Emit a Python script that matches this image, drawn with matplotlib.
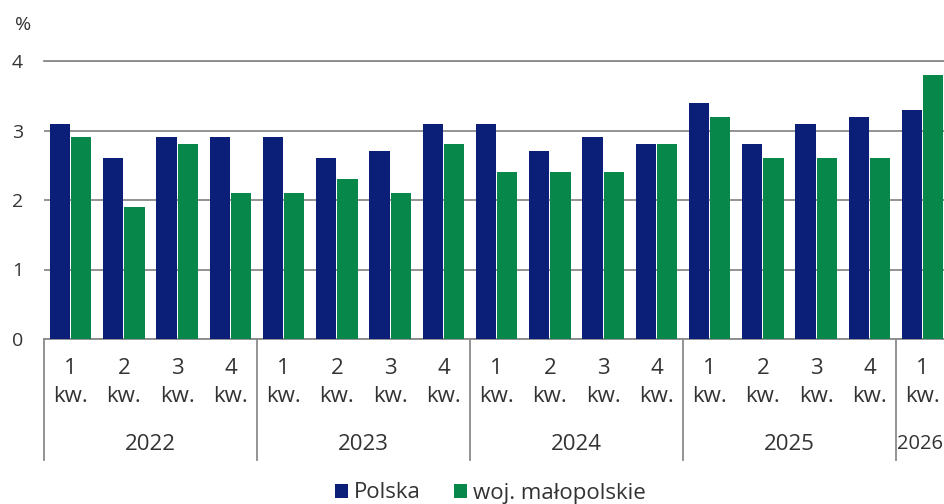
import matplotlib
matplotlib.use("Agg")
import matplotlib.pyplot as plt
import matplotlib.transforms as mtransforms
from matplotlib.patches import Patch
import numpy as np

years = ["2022", "2023", "2024", "2025", "2026"]
quarters_per_year = [4, 4, 4, 4, 1]
quarter_labels = ["1", "2", "3", "4"] * 4 + ["1"]
polska = [3.1, 2.6, 2.9, 2.9, 2.9, 2.6, 2.7, 3.1, 3.1, 2.7, 2.9, 2.8, 3.4, 2.8, 3.1, 3.2, 3.3]
malopolskie = [2.9, 1.9, 2.8, 2.1, 2.1, 2.3, 2.1, 2.8, 2.4, 2.4, 2.4, 2.8, 3.2, 2.6, 2.6, 2.6, 3.8]
series_names = ["Polska", "woj. małopolskie"]
yticks = [0, 1, 2, 3, 4]

navy = "#0b1f78"
green = "#07884a"
grid_c = "#8a8a8a"
text_c = "#333333"

plt.rcParams["font.family"] = ["Open Sans", "DejaVu Sans"]

fig = plt.figure(figsize=(9.44, 5.04), dpi=100)
ax = fig.add_axes([44 / 944, 1 - 339 / 504, 1 - 44 / 944, (339 - 61) / 504])

n = len(polska)
x = np.arange(n)
w = 0.38
off = 0.2
ax.bar(x - off, polska, width=w, color=navy, edgecolor="none", zorder=3)
ax.bar(x + off, malopolskie, width=w, color=green, edgecolor="none", zorder=3)

ax.set_ylim(0, 4)
ax.set_xlim(-0.5, 16.4)
ax.set_yticks(yticks)
ax.set_yticklabels([str(t) for t in yticks], fontsize=14, color=text_c)
ax.tick_params(axis="y", length=0, pad=15)
ax.tick_params(axis="x", length=0, labelbottom=False)
ax.yaxis.grid(True, color=grid_c, linewidth=1.3, zorder=0)
for s in ["top", "right", "left"]:
    ax.spines[s].set_visible(False)
ax.spines["bottom"].set_color(grid_c)
ax.spines["bottom"].set_linewidth(1.3)

ax.axhline(yticks[-1], color=grid_c, linewidth=1.3, zorder=0, clip_on=False)

fig.text(15 / 944, 1 - 25 / 504, "%", fontsize=14, color=text_c, ha="left", va="center")

trans = mtransforms.blended_transform_factory(ax.transData, fig.transFigure)
y_q1 = 1 - 369 / 504
y_q2 = 1 - 397 / 504
y_year = 1 - 444 / 504
for i, q in enumerate(quarter_labels):
    ax.text(i, y_q1, q, transform=trans, ha="center", va="center", fontsize=16, color=text_c)
    ax.text(i, y_q2, "kw.", transform=trans, ha="center", va="center", fontsize=16, color=text_c)

start = 0
bounds = [start - 0.5]
for yr, cnt in zip(years, quarters_per_year):
    end = start + cnt
    center = (start + end - 1) / 2
    if cnt == 1:
        ax.text(start - 0.5 + 0.01, y_year, yr, transform=trans, ha="left", va="center",
                fontsize=14.5, color=text_c, clip_on=False)
    else:
        ax.text(center, y_year, yr, transform=trans, ha="center", va="center",
                fontsize=16, color=text_c)
    bounds.append(end - 0.5)
    start = end
y_top = 1 - 339 / 504
y_bot = 1 - 460 / 504
for b in bounds[:-1]:
    ax.plot([b, b], [y_top, y_bot], transform=trans, color=grid_c, linewidth=1.3, clip_on=False)

handles = [Patch(facecolor=navy, edgecolor="none"), Patch(facecolor=green, edgecolor="none")]
fig.legend(handles, series_names, loc="center", bbox_to_anchor=(490 / 944, 1 - 493 / 504),
           ncol=2, frameon=False, fontsize=16, handlelength=0.6, handleheight=0.6,
           handletextpad=0.25, columnspacing=1.5, labelcolor=text_c)

fig.savefig("out.png", dpi=100)
